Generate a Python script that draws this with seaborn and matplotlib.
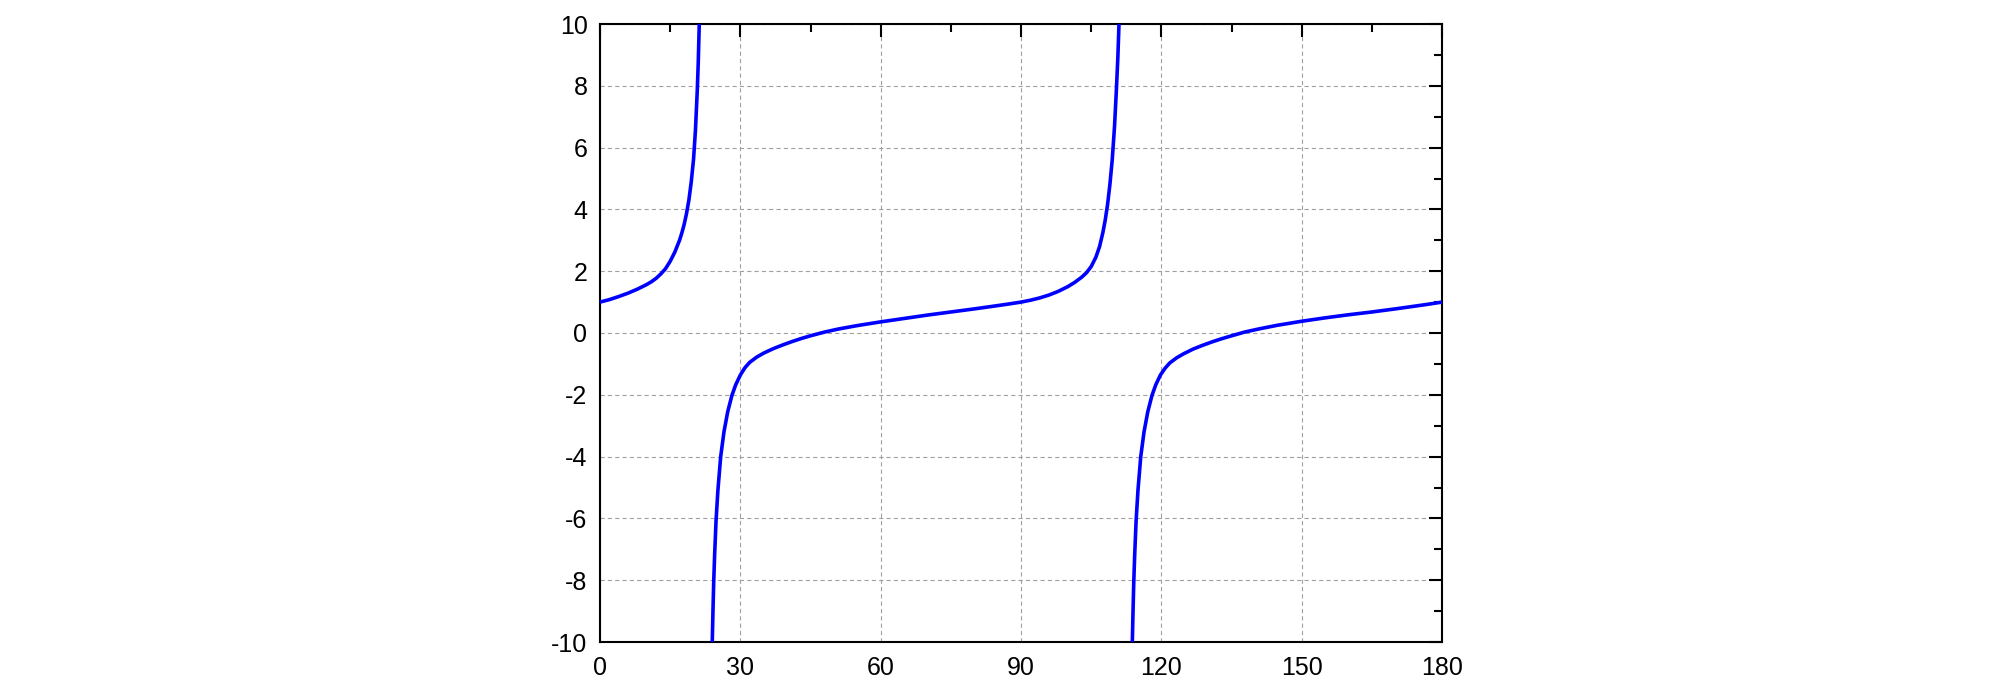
import numpy as np
import matplotlib
matplotlib.use("Agg")
import matplotlib.pyplot as plt
import seaborn as sns
from matplotlib.ticker import MultipleLocator

# values, one list pair per branch
branch1_x = [0.0, 2.0, 4.0, 6.0, 8.0, 10.0, 11.0, 12.0, 13.0, 14.0, 15.0, 16.0, 17.0,
             17.5, 18.0, 18.5, 19.0, 19.5, 20.0, 20.4, 20.8, 21.0, 21.22]
branch1_y = [1.0, 1.08, 1.18, 1.29, 1.42, 1.57, 1.66, 1.77, 1.91, 2.08, 2.32, 2.62, 3.0,
             3.24, 3.52, 3.87, 4.3, 4.88, 5.63, 6.55, 7.87, 8.73, 10.0]

branch2_x = [24.0, 24.15, 24.3, 24.5, 24.8, 25.2, 25.8, 26.5, 27.3, 28.2, 29.0, 30.0,
             31.0, 32.0, 33.5, 35.0, 37.0, 39.0, 41.0, 43.0, 45.0, 48.0, 51.0, 55.0,
             60.0, 65.0, 70.0, 75.0, 80.0, 84.0, 87.0, 90.0, 92.0, 94.0, 96.0, 98.0,
             100.0, 101.5, 103.0, 104.0, 105.0, 106.0, 106.8, 107.5, 108.0, 108.5,
             109.0, 109.5, 110.0, 110.4, 110.7, 110.95]
branch2_y = [-10.0, -9.0, -8.1, -7.2, -6.1, -5.1, -4.0, -3.2, -2.55, -2.02, -1.68, -1.36,
             -1.12, -0.95, -0.78, -0.65, -0.51, -0.39, -0.28, -0.18, -0.09, 0.03, 0.13, 0.24,
             0.36, 0.47, 0.58, 0.68, 0.78, 0.865, 0.93, 1.0, 1.06, 1.135, 1.23, 1.35,
             1.5, 1.64, 1.81, 1.95, 2.15, 2.45, 2.8, 3.25, 3.65, 4.15,
             4.8, 5.6, 6.7, 7.9, 8.9, 10.0]

branch3_x = [113.8, 113.95, 114.1, 114.3, 114.6, 115.0, 115.6, 116.3, 117.1, 118.0, 118.8,
             119.8, 120.8, 121.8, 123.3, 124.8, 126.8, 128.8, 130.8, 132.8, 134.8, 137.8,
             140.8, 144.8, 150.0, 155.0, 160.0, 165.0, 170.0, 174.0, 177.0, 180.0]
branch3_y = [-10.0, -9.0, -8.1, -7.2, -6.1, -5.1, -4.0, -3.2, -2.55, -2.02, -1.68,
             -1.36, -1.14, -0.97, -0.8, -0.67, -0.52, -0.4, -0.29, -0.19, -0.1, 0.03,
             0.13, 0.25, 0.38, 0.49, 0.59, 0.68, 0.78, 0.865, 0.93, 1.0]

x_ticks = [0, 30, 60, 90, 120, 150, 180]
y_ticks = [-10, -8, -6, -4, -2, 0, 2, 4, 6, 8, 10]

sns.set_style("white")
plt.rcParams['font.family'] = ['Liberation Sans', 'DejaVu Sans']

fig = plt.figure(figsize=(20.08, 6.94), dpi=100)
ax = fig.add_axes([600 / 2008, 52 / 694, 842 / 2008, 618 / 694])

for bx, by in [(branch1_x, branch1_y), (branch2_x, branch2_y), (branch3_x, branch3_y)]:
    sns.lineplot(x=bx, y=by, ax=ax, color='#0000ff', linewidth=2.6,
                 sort=False, estimator=None, zorder=3,
                 solid_joinstyle='round', solid_capstyle='butt')

ax.set_xlim(0, 180)
ax.set_ylim(-10, 10)
ax.set_xticks(x_ticks)
ax.set_yticks(y_ticks)
ax.set_xticklabels([str(t) for t in x_ticks])
ax.set_yticklabels([str(t) for t in y_ticks])
ax.xaxis.set_minor_locator(MultipleLocator(15))
ax.yaxis.set_minor_locator(MultipleLocator(1))

ax.grid(True, which='major', color='#a0a0a0', linewidth=0.8,
        linestyle=(0, (3.8, 2.8)), zorder=1)

ax.tick_params(which='both', direction='in', top=True, right=True,
               color='black', labelsize=18, labelcolor='black')
ax.tick_params(which='major', length=9.5, width=1.5)
ax.tick_params(which='minor', length=5.5, width=1.5)
ax.tick_params(axis='x', which='major', pad=10)
ax.tick_params(axis='y', which='major', pad=9)

for s in ax.spines.values():
    s.set_color('black')
    s.set_linewidth(1.5)
    s.set_visible(True)

fig.savefig("out.png", dpi=100)
